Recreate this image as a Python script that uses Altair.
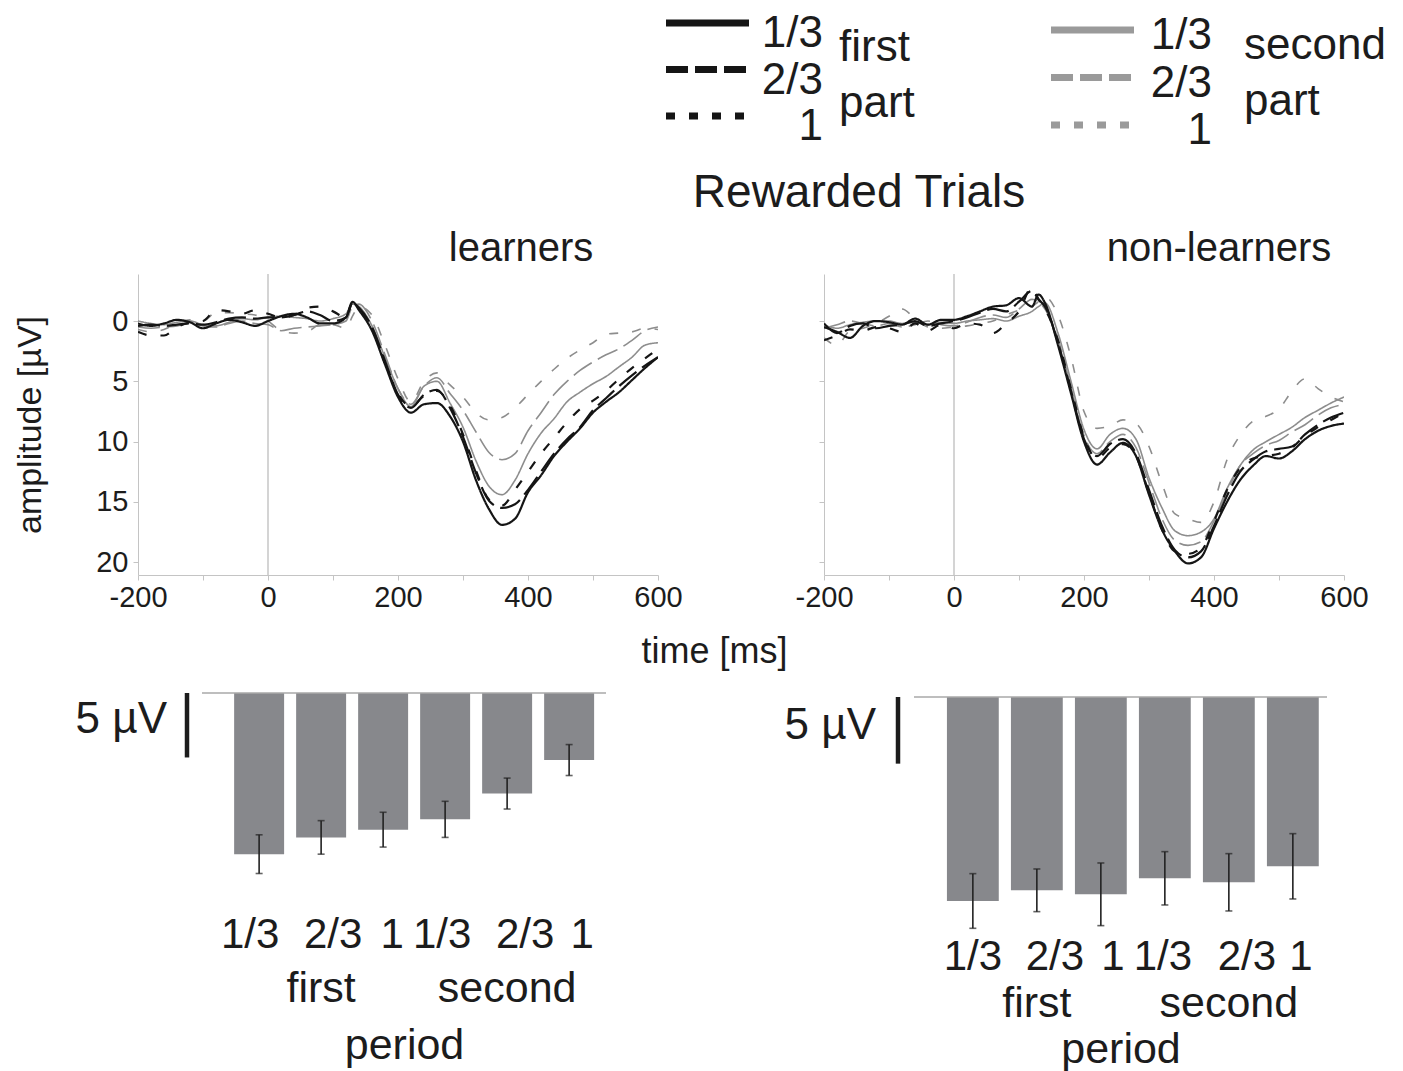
import altair as alt
import pandas as pd

FONT = "Liberation Sans"
INK = "#1c1c1c"
AXIS_GRAY = "#c4c4c4"
BLACK_LINE = "#151515"
GRAY_LINE = "#8d8d8d"
LEG_GRAY = "#9a9a9a"
BAR_FILL = "#87888c"

main_title = "Rewarded Trials"
panel_titles = ["learners", "non-learners"]
parts = ["first", "second"]
part_word = "part"
fracs = ["1/3", "2/3", "1"]
x_title = "time [ms]"
y_title = "amplitude [µV]"
bar_title = "period"
scale_text = "5 µV"
scale_uv = [0, 5]
zero_time = [0]
x_ticks = [-200, -100, 0, 100, 200, 300, 400, 500, 600]
y_ticks = [0, 5, 10, 15, 20]

times = [-200, -180, -160, -140, -120, -100, -80, -60, -40, -20, 0, 20, 40, 60, 80, 100, 120, 130, 140,
         160, 180, 200, 220, 240, 260, 280, 300, 320, 340, 360, 380, 400, 420, 440, 460, 480, 500, 520,
         540, 560, 580, 600]

# learners
learn_first_13 = [0.2, 0.4, 0.2, -0.1, 0.1, 0.6, 0.2, -0.1, 0.1, 0.4, 0.0, -0.4, -0.6, -0.3, 0.2, 0.2, -0.3, -1.6, -0.9,
                  0.8, 3.6, 6.3, 7.6, 6.9, 6.8, 7.9, 10.0, 13.2, 15.6, 16.9, 16.4, 14.2, 12.8, 11.2, 10.0, 8.9, 7.6, 6.7, 5.9, 4.9, 3.9, 3.0]
learn_first_23 = [0.4, 0.3, 0.4, 0.3, 0.2, 0.3, 0.1, -0.2, -0.3, -0.2, -0.3, -0.3, -0.5, -0.8, -0.5, 0.0, -0.3, -1.5, -1.1,
                  0.5, 3.3, 6.1, 7.2, 6.1, 5.7, 7.2, 9.6, 12.6, 14.9, 15.5, 15.2, 14.0, 12.5, 11.0, 9.8, 8.8, 7.4, 6.4, 5.4, 4.5, 3.7, 3.0]
learn_first_1 = [0.9, 1.2, 1.2, 0.5, 0.1, 0.0, -0.9, -0.8, -0.6, -0.9, -0.6, -0.3, -0.5, -1.1, -1.2, -0.8, -0.3, -1.5, -1.0,
                 0.6, 3.5, 6.0, 7.1, 6.2, 5.8, 7.0, 9.4, 12.4, 14.8, 15.3, 14.0, 12.5, 11.0, 9.7, 8.4, 7.3, 6.6, 5.8, 4.8, 3.9, 3.1, 2.3]
learn_second_13 = [0.0, 0.2, 0.3, 0.1, 0.0, 0.3, 0.4, 0.1, -0.2, -0.1, -0.3, -0.4, -0.3, -0.2, 0.0, -0.2, -0.6, -1.4, -1.2,
                   0.4, 3.0, 5.6, 7.1, 5.4, 5.0, 6.8, 8.8, 11.6, 13.7, 14.4, 13.2, 11.0, 9.3, 8.1, 6.7, 5.9, 5.2, 4.6, 3.8, 3.0, 2.0, 1.8]
learn_second_23 = [0.5, 0.6, 0.5, 0.4, 0.2, 0.4, 0.5, 0.2, 0.0, 0.2, 0.3, 0.8, 0.6, 0.5, 0.4, 0.3, 0.0, -1.2, -1.4,
                   0.0, 2.8, 5.6, 6.9, 5.4, 4.7, 6.0, 7.4, 9.2, 10.9, 11.5, 11.0, 9.1, 7.6, 6.1, 5.0, 4.1, 3.4, 2.8, 2.3, 1.6, 0.8, 0.5]
learn_second_1 = [0.7, 0.9, 0.7, 0.2, -0.1, 0.0, -0.7, -0.7, -0.6, -0.5, 0.0, 0.8, 1.0, 0.9, 0.3, 0.3, 0.6, -0.4, -1.2,
                  -0.5, 2.0, 4.8, 6.7, 5.0, 4.3, 5.3, 6.3, 7.6, 8.2, 8.0, 7.2, 6.1, 5.0, 4.0, 3.1, 2.4, 1.8, 1.1, 1.0, 0.9, 0.6, 0.7]

# non-learners
non_first_13 = [0.5, 0.9, 1.4, 0.4, 0.0, 0.1, 0.3, -0.2, 0.3, -0.1, -0.1, -0.4, -0.8, -1.2, -1.3, -1.9, -1.2, -2.2, -1.5,
                2.0, 6.0, 10.0, 11.9, 10.9, 10.1, 11.2, 14.4, 17.3, 19.1, 20.1, 19.6, 17.2, 15.0, 13.2, 12.0, 11.2, 11.4, 10.8, 9.8, 9.1, 8.7, 8.5]
non_first_23 = [0.2, 1.0, 0.4, 0.2, 0.6, 0.4, 0.3, 0.0, 0.4, 0.2, 0.0, -0.3, -0.7, -1.0, -0.8, -1.6, -2.5, -1.8, -1.2,
                1.8, 5.8, 9.8, 11.2, 10.2, 9.8, 11.0, 14.0, 17.0, 19.0, 19.6, 19.1, 17.0, 14.5, 12.5, 11.5, 10.8, 10.6, 10.4, 9.4, 8.6, 8.0, 7.6]
non_first_1 = [1.6, 1.2, 0.7, 0.8, 0.5, 0.6, 0.9, 0.2, 0.8, 0.3, 0.6, 0.2, 0.3, 1.0, 0.2, -0.8, -2.8, -1.8, -1.0,
               1.6, 5.6, 9.6, 11.4, 10.5, 10.2, 11.2, 14.3, 17.3, 19.1, 19.3, 18.8, 16.6, 14.0, 12.2, 11.4, 11.2, 11.0, 10.5, 9.5, 8.8, 8.2, 7.6]
non_second_13 = [0.3, 0.6, 0.3, 0.1, 0.0, 0.0, 0.2, 0.1, 0.3, 0.1, 0.2, 0.0, -0.1, -0.2, 0.0, -0.4, -0.8, -1.2, -1.5,
                 1.0, 5.0, 9.0, 10.6, 9.4, 8.9, 9.8, 13.0, 15.5, 17.4, 17.8, 17.5, 16.4, 13.9, 12.0, 10.7, 10.0, 9.4, 8.8, 8.0, 7.4, 6.8, 6.3]
non_second_23 = [0.6, 0.3, 0.0, 0.2, 0.4, 0.2, 0.5, 0.3, 0.0, 0.3, 0.4, 0.1, -0.3, -0.5, -0.3, -1.0, -1.8, -1.6, -1.0,
                 1.5, 5.5, 9.5, 11.0, 10.0, 9.4, 10.5, 13.4, 16.4, 18.2, 18.6, 18.3, 16.6, 14.2, 12.0, 11.0, 10.3, 9.9, 9.2, 8.6, 7.8, 7.2, 6.9]
non_second_1 = [1.4, 2.0, 0.8, 0.6, 0.2, -0.4, -1.0, -0.2, 0.5, 0.6, 0.5, 0.4, 0.2, 0.0, -0.5, -0.9, -1.2, -1.6, -2.0,
                -0.5, 3.0, 7.5, 8.9, 8.7, 8.2, 8.5, 10.4, 13.5, 16.0, 16.4, 16.7, 15.0, 11.5, 9.5, 8.3, 7.9, 7.3, 5.8, 4.8, 5.6, 6.3, 6.7]

# bar panels
bar_ticks = ["1/3", "2/3", "1", "1/3", "2/3", "1"]
bar_groups = ["first", "second"]
learn_bar = [12.5, 11.2, 10.6, 9.8, 7.8, 5.2]
learn_bar_err = [1.5, 1.3, 1.35, 1.4, 1.2, 1.2]
non_bar = [15.3, 14.5, 14.8, 13.6, 13.9, 12.7]
non_bar_err = [2.05, 1.6, 2.35, 2.0, 2.15, 2.45]

line_dashes = [[1, 0], [5, 3], [1.6, 2.4]]
legend_dashes = [[1, 0], [22, 7], [9, 14]]


def long_frame(series):
    rows = []
    for (part, frac), vals in series:
        for t, v in zip(times, vals):
            rows.append({"time": t, "amp": v, "part": part, "frac": frac})
    return pd.DataFrame(rows)


learn_df = long_frame([
    (("first", "1/3"), learn_first_13), (("first", "2/3"), learn_first_23), (("first", "1"), learn_first_1),
    (("second", "1/3"), learn_second_13), (("second", "2/3"), learn_second_23), (("second", "1"), learn_second_1),
])
non_df = long_frame([
    (("first", "1/3"), non_first_13), (("first", "2/3"), non_first_23), (("first", "1"), non_first_1),
    (("second", "1/3"), non_second_13), (("second", "2/3"), non_second_23), (("second", "1"), non_second_1),
])


def line_panel(df, title, title_dx, left):
    x_kw = dict(values=x_ticks, labelExpr="datum.value % 200 == 0 ? '' + datum.value : ''",
                labelFlush=False, labelFontSize=29, labelPadding=3, tickSize=5, tickColor=AXIS_GRAY,
                domainColor=AXIS_GRAY, grid=False, labelColor=INK)
    if left:
        x_kw.update(titleFontSize=36, titleColor=INK, titleX=576, titleY=76, titleBaseline="middle")
    y_kw = dict(values=y_ticks, tickSize=5, tickColor=AXIS_GRAY, domainColor=AXIS_GRAY, grid=False,
                labelFontSize=29, labelPadding=5, labelColor=INK, labelBaseline="middle")
    if left:
        y_kw.update(titleFontSize=34, titleColor=INK, titleX=-108, titleY=150.5, titleAngle=270,
                    titleBaseline="middle", titleAlign="center")
    else:
        y_kw.update(labels=False)
    x_enc = alt.X("time:Q", scale=alt.Scale(domain=[-200, 600], nice=False, zero=False),
                  axis=alt.Axis(**x_kw), title=x_title if left else None)
    y_enc = alt.Y("amp:Q", scale=alt.Scale(domain=[-3.9, 21.06], reverse=True, nice=False, zero=False),
                  axis=alt.Axis(**y_kw), title=y_title if left else None)
    zero = alt.Chart(pd.DataFrame({"time": zero_time})).mark_rule(color="#bdbdbd", strokeWidth=1.3).encode(
        x=alt.X("time:Q"))
    base = alt.Chart(df)

    def layer(part, color, width):
        return base.transform_filter(alt.datum.part == part).mark_line(
            interpolate="monotone", color=color, strokeWidth=width, clip=True).encode(
            x=x_enc, y=y_enc,
            strokeDash=alt.StrokeDash("frac:N", scale=alt.Scale(domain=fracs, range=line_dashes), legend=None),
            detail="frac:N")

    return alt.layer(zero, layer("second", GRAY_LINE, 1.6), layer("first", BLACK_LINE, 2.2)).properties(
        width=520, height=301,
        title=alt.TitleParams(text=title, fontSize=40, fontWeight="normal", font=FONT, color=INK,
                              anchor="middle", frame="group", dx=title_dx, dy=40, offset=12,
                              baseline="alphabetic"))


def legend_panel(part, color, x0, x1, x_lab, x_part, y_rng, lab_dy, y_part, extra=None):
    d = pd.DataFrame({"legend_frac": fracs})
    y_enc = alt.Y("legend_frac:N", scale=alt.Scale(type="point", domain=fracs, range=y_rng, padding=0), axis=None)
    strokes = alt.Chart(d).mark_rule(color=color, strokeWidth=7, strokeCap="butt").encode(
        x=alt.value(x0), x2=alt.value(x1), y=y_enc,
        strokeDash=alt.StrokeDash("legend_frac:N", scale=alt.Scale(domain=fracs, range=legend_dashes), legend=None))
    labels = alt.Chart(d).mark_text(align="right", baseline="middle", dy=lab_dy, font=FONT, fontSize=44,
                                    color=INK).encode(x=alt.value(x_lab), y=y_enc, text="legend_frac:N")
    part_df = pd.DataFrame({"part": [part], "word": [part_word]})
    part_lab = alt.Chart(part_df).transform_calculate(lab="datum.part + '|' + datum.word").mark_text(
        align="left", baseline="middle", lineBreak="|", lineHeight=56, font=FONT, fontSize=44, color=INK).encode(
        x=alt.value(x_part), y=alt.value(y_part), text="lab:N")
    layers = [strokes, labels, part_lab]
    if extra is not None:
        layers.append(extra)
    return alt.layer(*layers).properties(width=520, height=141)


def bar_panel(vals, errs, x_rng, p_in, p_out, align, y_dom, y_rng, height, label_pad, title_y,
              bar_x, text_x, text_y, offs, group_y):
    keys = [f"{t}|{i}" for i, t in enumerate(bar_ticks)]
    df = pd.DataFrame({"key": keys, "amp": vals, "err": errs})
    label_offset = {"condition": [{"test": f"datum.value == '{k}'", "value": o} for k, o in zip(keys, offs)],
                    "value": 0}
    x_enc = alt.X("key:N", sort=keys,
                  scale=alt.Scale(range=x_rng, paddingInner=p_in, paddingOuter=p_out, align=align),
                  axis=alt.Axis(labelExpr="split(datum.value, '|')[0]", labelFontSize=42,
                                labelPadding=label_pad, labelAngle=0, labelBaseline="top",
                                labelOffset=label_offset,
                                labelColor=INK, domain=False, ticks=False, grid=False,
                                titleFontSize=43, titleColor=INK, titleY=title_y, titleBaseline="middle"),
                  title=bar_title)
    y_scale = alt.Scale(domain=y_dom, range=y_rng, nice=False, zero=True)
    base = alt.Chart(df).transform_calculate(lo="datum.amp - datum.err", hi="datum.amp + datum.err")
    bars = base.mark_bar(color=BAR_FILL).encode(x=x_enc, y=alt.Y("amp:Q", scale=y_scale, axis=None))
    err = base.mark_rule(color="#222222", strokeWidth=1.6).encode(
        x=x_enc, y=alt.Y("lo:Q", scale=y_scale, axis=None), y2="hi:Q")
    cap_lo = base.mark_tick(color="#222222", thickness=1.6, size=7).encode(
        x=x_enc, y=alt.Y("lo:Q", scale=y_scale, axis=None))
    cap_hi = base.mark_tick(color="#222222", thickness=1.6, size=7).encode(
        x=x_enc, y=alt.Y("hi:Q", scale=y_scale, axis=None))
    baseline = alt.Chart(pd.DataFrame({"v": [0]})).mark_rule(color="#a8a8a8", strokeWidth=1.6).encode(
        x=alt.value(x_rng[0]), x2=alt.value(x_rng[1]), y=alt.Y("v:Q", scale=y_scale, axis=None))
    sb = pd.DataFrame({"a": [scale_uv[0]], "b": [scale_uv[1]], "lab": [scale_text]})
    scalebar = alt.Chart(sb).mark_rule(color=INK, strokeWidth=4.5, strokeCap="butt").encode(
        x=alt.value(bar_x), y=alt.Y("a:Q", scale=y_scale, axis=None), y2="b:Q")
    scaletext = alt.Chart(sb).mark_text(align="right", baseline="middle", font=FONT, fontSize=44,
                                        color=INK).encode(x=alt.value(text_x), y=alt.value(text_y), text="lab:N")
    gdf = pd.DataFrame({"key": [keys[1], keys[4]], "grp": bar_groups})
    groups = alt.Chart(gdf).mark_text(align="center", baseline="middle", font=FONT, fontSize=43,
                                      color=INK).encode(x=x_enc, y=alt.value(group_y), text="grp:N")
    return alt.layer(bars, err, cap_lo, cap_hi, baseline, scalebar, scaletext, groups).properties(
        width=520, height=height)


title_layer = alt.Chart(pd.DataFrame({"t": [main_title]})).mark_text(
    font=FONT, fontSize=46, color=INK, align="center", baseline="middle").encode(
    x=alt.value(721), y=alt.value(178), text="t:N")

leg_a = legend_panel(parts[0], BLACK_LINE, 528, 611, 685, 701, [8, 101], 11, 33, extra=title_layer)
leg_b = legend_panel(parts[1], LEG_GRAY, 227, 310, 388, 420, [15, 110], 6, 31)

line_l = line_panel(learn_df, panel_titles[0], 123, True)
line_r = line_panel(non_df, panel_titles[1], 135, False)

bar_l = bar_panel(learn_bar, learn_bar_err, [64, 468], 0.194, 0.355, 0.73, [0, 15.9], [0, 205], 205, 16, 147,
                  49, 29, 26.7, [-9, 12, 9, -3, 18, 13], 296)
bar_r = bar_panel(non_bar, non_bar_err, [90, 503], 0.19, 0.3216, 0.80, [0, 17.5], [4, 237.3], 237, 6, 119,
                  74, 52, 33, [0, 18, 12, -2, 18, 8], 311)

chart = alt.concat(leg_a, leg_b, line_l, line_r, bar_l, bar_r, columns=2,
                   spacing={"row": 118, "column": 166}, bounds="flush", align="each").properties(
    padding={"left": 5, "top": 4, "right": 0, "bottom": 0}).configure_view(strokeWidth=0).configure_axis(
    labelFont=FONT, titleFont=FONT, titleFontWeight="normal").configure_text(font=FONT)

chart.save("out.html", embed_options={"renderer": "svg", "actions": False})
